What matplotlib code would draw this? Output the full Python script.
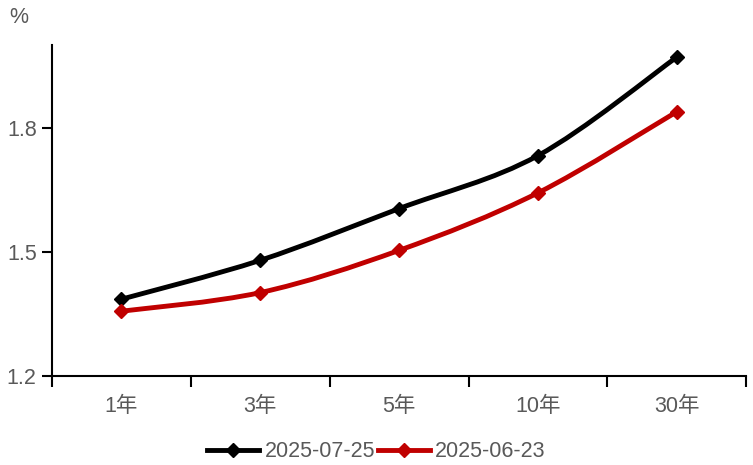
import matplotlib
matplotlib.use("Agg")
import matplotlib.pyplot as plt
from matplotlib.path import Path
from matplotlib.patches import PathPatch
from matplotlib.lines import Line2D

plt.rcParams["font.family"] = ["Liberation Sans", "Noto Sans CJK SC", "DejaVu Sans"]

# data
tenors = ["1年", "3年", "5年", "10年", "30年"]
labels = ["2025-07-25", "2025-06-23"]
yield_0725 = [1.386, 1.480, 1.605, 1.733, 1.971]
yield_0623 = [1.357, 1.402, 1.504, 1.643, 1.839]
y_ticks = [1.2, 1.5, 1.8]

colors = ["#000000", "#C00000"]
TXT = "#595959"
FS = 15.5


def smooth_path(xs, ys, k=1 / 6):
    # Catmull-Rom style cubic bezier through the points (Excel-like smoothed line)
    verts = [(xs[0], ys[0])]
    codes = [Path.MOVETO]
    n = len(xs)
    for i in range(n - 1):
        p0 = (xs[max(i - 1, 0)], ys[max(i - 1, 0)])
        p1 = (xs[i], ys[i])
        p2 = (xs[i + 1], ys[i + 1])
        p3 = (xs[min(i + 2, n - 1)], ys[min(i + 2, n - 1)])
        c1 = (p1[0] + (p2[0] - p0[0]) * k, p1[1] + (p2[1] - p0[1]) * k)
        c2 = (p2[0] - (p3[0] - p1[0]) * k, p2[1] - (p3[1] - p1[1]) * k)
        verts += [c1, c2, p2]
        codes += [Path.CURVE4] * 3
    return Path(verts, codes)


fig = plt.figure(figsize=(7.53, 4.65), dpi=100, facecolor="white")
ax = fig.add_axes([0.069, 0.191, 0.922, 0.712])

xs = list(range(len(tenors)))
handles = []
for series, c, lbl in zip([yield_0725, yield_0623], colors, labels):
    ax.add_patch(PathPatch(smooth_path(xs, series), facecolor="none",
                           edgecolor=c, lw=3.5, capstyle="round", zorder=3))
    ax.plot(xs, series, ls="none", marker="D", ms=7.5, color=c, zorder=4)
    handles.append(Line2D([], [], color=c, lw=3.5, marker="D", ms=7.5, label=lbl))

ax.set_xlim(-0.5, len(tenors) - 0.5)
ax.set_ylim(1.2, 2.0)

# category boundaries as major ticks, labels on minor ticks
ax.set_xticks([i - 0.5 for i in range(len(tenors) + 1)])
ax.set_xticklabels([])
ax.set_xticks(xs, minor=True)
ax.set_xticklabels(tenors, minor=True)
ax.tick_params(axis="x", which="major", direction="out", length=8, width=1.5, color="black")
ax.tick_params(axis="x", which="minor", length=0, pad=14, labelsize=FS, labelcolor=TXT)

ax.set_yticks(y_ticks)
ax.set_yticklabels([f"{v:.1f}" for v in y_ticks])
ax.tick_params(axis="y", direction="out", length=7, width=1.5, color="black",
               labelsize=FS, labelcolor=TXT, pad=4)

for s in ["top", "right"]:
    ax.spines[s].set_visible(False)
for s in ["left", "bottom"]:
    ax.spines[s].set_linewidth(1.5)
    ax.spines[s].set_color("black")

fig.text(0.012, 0.962, "%", fontsize=FS, color=TXT, ha="left", va="center")

fig.legend(handles=handles, loc="center", bbox_to_anchor=(0.5, 0.028), ncol=2,
           frameon=False, fontsize=FS, labelcolor=TXT, handlelength=2.4,
           handletextpad=0.25, columnspacing=0.15)

fig.savefig("out.png", dpi=100, facecolor="white")
